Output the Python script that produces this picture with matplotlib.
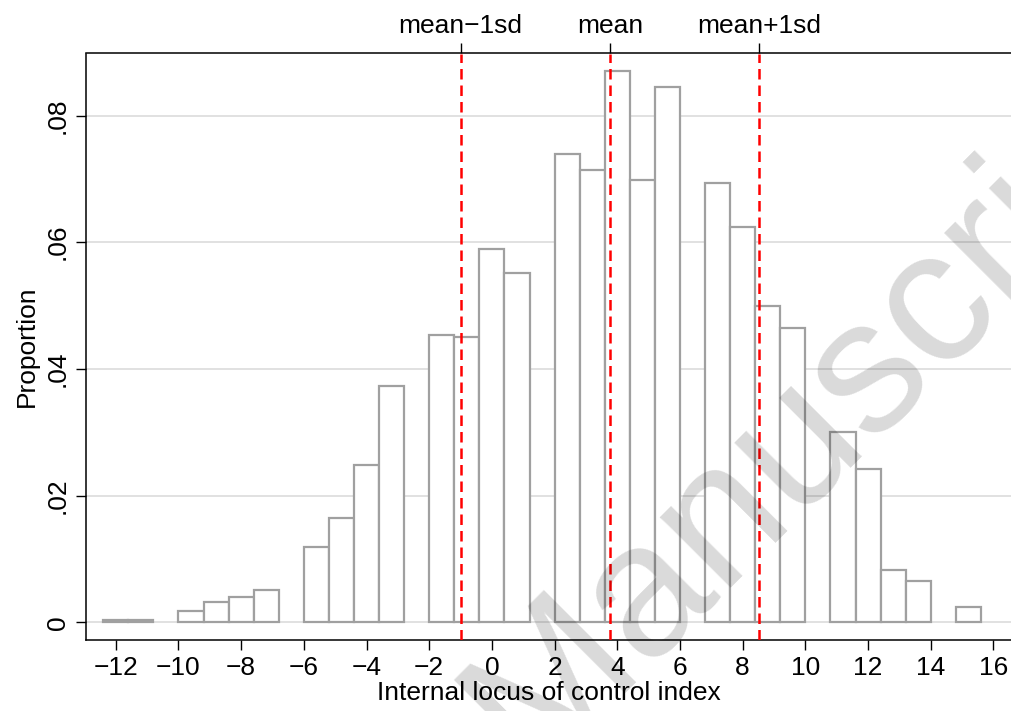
import matplotlib
matplotlib.use("Agg")
import matplotlib.pyplot as plt
import numpy as np

plt.rcParams['font.family'] = ['Liberation Sans', 'DejaVu Sans']

# histogram: 35 bins of width 0.8 starting at -12.4 (proportion per bin, 0 = empty)
bin_start = -12.4
bin_width = 0.8
proportion = [0.0004, 0.0004, 0.0, 0.0018, 0.0032, 0.0040, 0.0051, 0.0,
              0.0119, 0.0165, 0.0248, 0.0373, 0.0, 0.0453, 0.0451, 0.0589,
              0.0551, 0.0, 0.0740, 0.0714, 0.0870, 0.0699, 0.0845, 0.0,
              0.0694, 0.0624, 0.0500, 0.0465, 0.0, 0.0301, 0.0242, 0.0083,
              0.0065, 0.0, 0.0024]

mean_val = 3.76
sd_val = 4.76

x_ticks = list(range(-12, 17, 2))
y_ticks = [0, 0.02, 0.04, 0.06, 0.08]
y_labels = ["0", ".02", ".04", ".06", ".08"]
ref_labels = ["mean\u22121sd", "mean", "mean+1sd"]

fig = plt.figure(figsize=(10.11, 7.11), dpi=100)
ax = fig.add_axes([86 / 1011, 1 - 639.5 / 711, 1 - 86 / 1011, (639.5 - 53.5) / 711])

props = np.array(proportion)
edges = bin_start + bin_width * np.arange(len(props))
keep = props > 0
ax.bar(edges[keep], props[keep], width=bin_width, align='edge',
       facecolor='white', edgecolor='#a0a0a0', linewidth=1.6, zorder=2)

# reference lines at mean and +/- 1 sd
refs = [mean_val - sd_val, mean_val, mean_val + sd_val]
for r in refs:
    ax.axvline(r, color='#ff0000', linewidth=1.8, linestyle=(0, (4.2, 2.4)), zorder=3)

ax.set_xlim(-12.95, 16.56)
ax.set_ylim(-0.00272, 0.0898)

ax.set_yticks(y_ticks)
ax.set_yticklabels(y_labels, rotation=90, va='center')
ax.set_xticks(x_ticks)
ax.set_xticklabels([f"{t}".replace('-', '\u2212') for t in x_ticks])
ax.grid(axis='y', color='#dcdcdc', linewidth=1.2, zorder=0)
ax.set_axisbelow(True)

for s in ['left', 'bottom']:
    ax.spines[s].set_linewidth(1.1)
    ax.spines[s].set_color('black')
ax.spines['right'].set_visible(False)
ax.spines['top'].set_visible(False)

ax.tick_params(axis='both', length=7.2, width=1.0, labelsize=19, pad=4.5)

ax.set_xlabel("Internal locus of control index", fontsize=19, labelpad=1)
ax.set_ylabel("Proportion", fontsize=19, labelpad=5)

top = ax.secondary_xaxis('top')
top.set_xticks(refs)
top.set_xticklabels(ref_labels)
top.tick_params(length=7.2, width=1.0, labelsize=19, pad=4)
top.spines['top'].set_linewidth(1.1)

# watermark
fig.text(531 / 1011, 1 - 772 / 711, "Manuscript", fontsize=137,
         color='black', alpha=0.15, rotation=45, rotation_mode='anchor',
         ha='left', va='baseline', zorder=10)

fig.savefig("out.png", dpi=100)
